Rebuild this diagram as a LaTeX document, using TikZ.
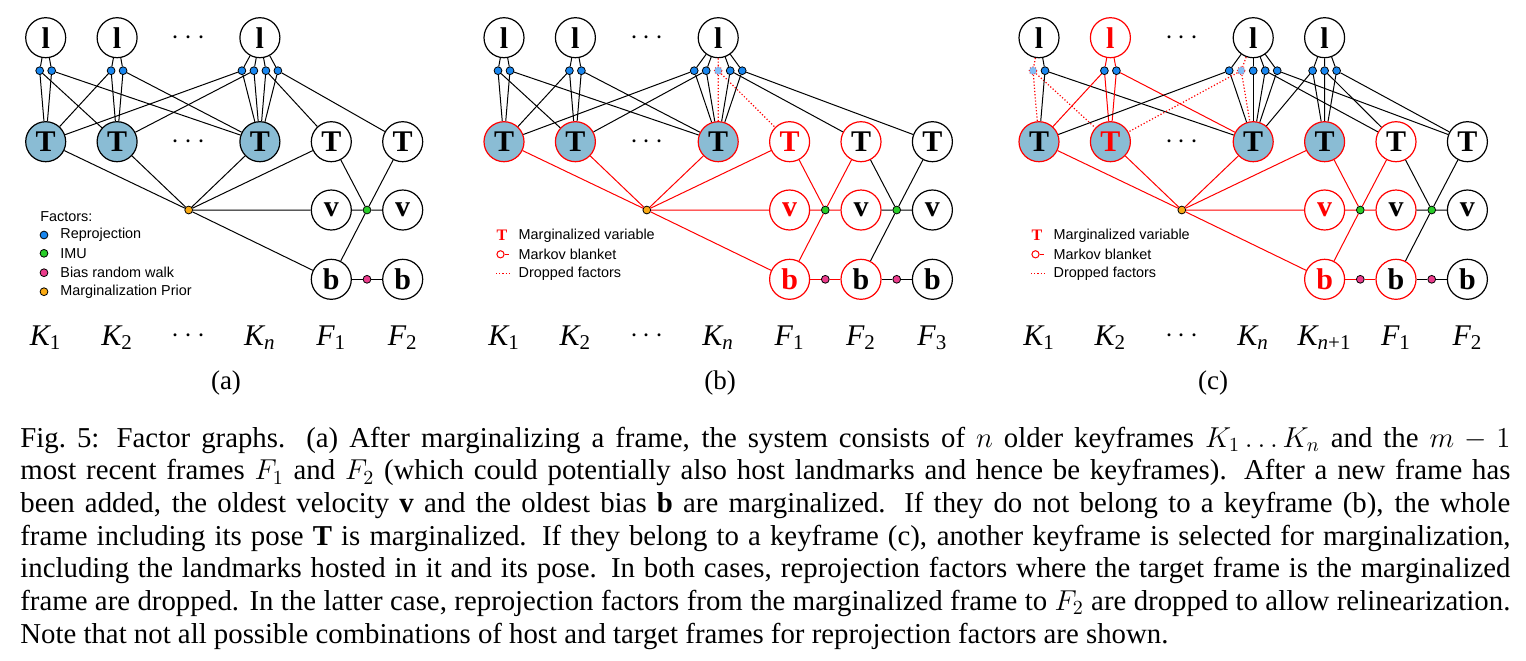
\documentclass[tikz,border=0pt]{standalone}
\usepackage{fontspec}
\setmainfont{Liberation Serif}
\setsansfont{Liberation Sans}
\usetikzlibrary{calc}

\definecolor{kfblue}{RGB}{138,188,212}
\definecolor{rpblue}{RGB}{25,135,240}
\definecolor{imugreen}{RGB}{40,205,40}
\definecolor{rwpink}{RGB}{235,60,140}
\definecolor{priororange}{RGB}{250,170,20}

\tikzset{
  var/.style={circle, draw, line width=0.6pt, minimum size=20pt, inner sep=0pt,
    fill=white, font=\bfseries\fontsize{15}{15}\selectfont},
  kf/.style={var, fill=kfblue},
  blanket/.style={draw=red},
  margvar/.style={draw=red, text=red},
  fac/.style={circle, draw, line width=0.4pt, minimum size=3.9pt, inner sep=0pt},
  rp/.style={fac, fill=rpblue},
  rpdrop/.style={fac, fill=rpblue!55, draw=red, densely dotted},
  imu/.style={fac, fill=imugreen},
  rw/.style={fac, fill=rwpink},
  prior/.style={fac, fill=priororange},
  gap/.style={font=\fontsize{15}{15}\selectfont},
  ln/.style={line width=0.5pt},
  lnred/.style={ln, red},
  lndrop/.style={line width=0.6pt, red, densely dotted},
  lgd/.style={anchor=west, inner sep=0pt, font=\sffamily\fontsize{7.2}{8}\selectfont},
  klab/.style={font=\fontsize{15}{15}\selectfont\itshape},
  sublab/.style={font=\fontsize{13.5}{15}\selectfont},
}

\begin{document}
\begin{tikzpicture}[x=0.5pt, y=-0.5pt]
  \useasboundingbox (0,0) rectangle (1526,660);

  % ---------------- (a) ----------------
  \begin{scope}[shift={(45.7,0)}]
    % landmarks and their reprojection factors
    \node[var] (a-l1) at (0,37.7) {l};
    \node[var] (a-l2) at (71.4,37.7) {l};
    \node[gap] (a-ld) at (142.8,37.7) {$\cdots$};
    \node[var] (a-l3) at (214.2,37.7) {l};
    \node[rp] (a-r1a) at (-6,70.7) {};
    \node[rp] (a-r1b) at (6,70.7) {};
    \node[rp] (a-r2a) at (65.4,70.7) {};
    \node[rp] (a-r2b) at (77.4,70.7) {};
    \node[rp] (a-r3a) at (196.2,70.7) {};
    \node[rp] (a-r3b) at (208.2,70.7) {};
    \node[rp] (a-r3c) at (220.2,70.7) {};
    \node[rp] (a-r3d) at (232.2,70.7) {};
    % poses, velocities, biases
    \node[kf] (a-t1) at (0,141.7) {T};
    \node[kf] (a-t2) at (71.4,141.7) {T};
    \node[gap] (a-td) at (142.8,141.7) {$\cdots$};
    \node[kf] (a-t3) at (214.2,141.7) {T};
    \node[var] (a-t4) at (285.6,141.7) {T};
    \node[var] (a-t5) at (357,141.7) {T};
    \node[var] (a-v4) at (285.6,210) {v};
    \node[var] (a-v5) at (357,210) {v};
    \node[var] (a-b4) at (285.6,279.3) {b};
    \node[var] (a-b5) at (357,279.3) {b};
    \node[prior] (a-p) at (143,210) {};
    \node[imu] (a-i) at (321.3,210) {};
    \node[rw] (a-w) at (321.3,279.3) {};
    % reprojection edges
    \draw[ln] (a-l1) -- (a-r1a) -- (a-t1) (a-r1a) -- (a-t2);
    \draw[ln] (a-l1) -- (a-r1b) -- (a-t1) (a-r1b) -- (a-t3);
    \draw[ln] (a-l2) -- (a-r2a) -- (a-t2) (a-r2a) -- (a-t1);
    \draw[ln] (a-l2) -- (a-r2b) -- (a-t2) (a-r2b) -- (a-t3);
    \draw[ln] (a-l3) -- (a-r3a) -- (a-t3) (a-r3a) -- (a-t1);
    \draw[ln] (a-l3) -- (a-r3b) -- (a-t3) (a-r3b) -- (a-t2);
    \draw[ln] (a-l3) -- (a-r3c) -- (a-t3) (a-r3c) -- (a-t4);
    \draw[ln] (a-l3) -- (a-r3d) -- (a-t3) (a-r3d) -- (a-t5);
    % prior, imu, random walk
    \draw[ln] (a-p) -- (a-t1) (a-p) -- (a-t2) (a-p) -- (a-t3)
      (a-p) -- (a-t4) (a-p) -- (a-v4) (a-p) -- (a-b4);
    \draw[ln] (a-i) -- (a-t4) (a-i) -- (a-t5) (a-i) -- (a-v4)
      (a-i) -- (a-v5) (a-i) -- (a-b4);
    \draw[ln] (a-b4) -- (a-w) -- (a-b5);
    % legend
    \node[lgd] (a-key) at (-5.7,216.7) {Factors:};
    \node[rp] (a-k1) at (-1.7,235) {};
    \node[imu] (a-k2) at (-1.7,253.3) {};
    \node[rw] (a-k3) at (-1.7,272.7) {};
    \node[prior] (a-k4) at (-1.7,291.7) {};
    \node[lgd] (a-k1t) at (14.3,235) {Reprojection};
    \node[lgd] (a-k2t) at (14.3,253.3) {IMU};
    \node[lgd] (a-k3t) at (14.3,272.7) {Bias random walk};
    \node[lgd] (a-k4t) at (14.3,291.7) {Marginalization Prior};
    % frame labels
    \node[klab] (a-f1) at (0,338) {K\textsubscript{\upshape 1}};
    \node[klab] (a-f2) at (71.4,338) {K\textsubscript{\upshape 2}};
    \node[gap] (a-fd) at (142.8,336) {$\cdots$};
    \node[klab] (a-f3) at (214.2,338) {K\textsubscript{n}};
    \node[klab] (a-f4) at (285.6,338) {F\textsubscript{\upshape 1}};
    \node[klab] (a-f5) at (357,338) {F\textsubscript{\upshape 2}};
    \node[sublab] (a-sub) at (180.3,383) {(a)};
  \end{scope}

  % ---------------- (b) ----------------
  \begin{scope}[shift={(504,0)}]
    \node[var] (b-l1) at (0,37.7) {l};
    \node[var] (b-l2) at (71.4,37.7) {l};
    \node[gap] (b-ld) at (142.8,37.7) {$\cdots$};
    \node[var] (b-l3) at (214.2,37.7) {l};
    \node[rp] (b-r1a) at (-6,70.7) {};
    \node[rp] (b-r1b) at (6,70.7) {};
    \node[rp] (b-r2a) at (65.4,70.7) {};
    \node[rp] (b-r2b) at (77.4,70.7) {};
    \node[rp] (b-r3a) at (190.2,70.7) {};
    \node[rp] (b-r3b) at (202.2,70.7) {};
    \node[rpdrop] (b-r3c) at (214.2,70.7) {};
    \node[rp] (b-r3d) at (226.2,70.7) {};
    \node[rp] (b-r3e) at (238.2,70.7) {};
    \node[kf, blanket] (b-t1) at (0,141.7) {T};
    \node[kf, blanket] (b-t2) at (71.4,141.7) {T};
    \node[gap] (b-td) at (142.8,141.7) {$\cdots$};
    \node[kf, blanket] (b-t3) at (214.2,141.7) {T};
    \node[var, margvar] (b-t4) at (285.6,141.7) {T};
    \node[var, blanket] (b-t5) at (357,141.7) {T};
    \node[var] (b-t6) at (428.4,141.7) {T};
    \node[var, margvar] (b-v4) at (285.6,210) {v};
    \node[var, blanket] (b-v5) at (357,210) {v};
    \node[var] (b-v6) at (428.4,210) {v};
    \node[var, margvar] (b-b4) at (285.6,279.3) {b};
    \node[var, blanket] (b-b5) at (357,279.3) {b};
    \node[var] (b-b6) at (428.4,279.3) {b};
    \node[prior] (b-p) at (142.8,210) {};
    \node[imu] (b-i1) at (321.3,210) {};
    \node[imu] (b-i2) at (392.7,210) {};
    \node[rw] (b-w1) at (321.3,279.3) {};
    \node[rw] (b-w2) at (392.7,279.3) {};
    % reprojection edges
    \draw[ln] (b-l1) -- (b-r1a) -- (b-t1) (b-r1a) -- (b-t2);
    \draw[ln] (b-l1) -- (b-r1b) -- (b-t1) (b-r1b) -- (b-t3);
    \draw[ln] (b-l2) -- (b-r2a) -- (b-t2) (b-r2a) -- (b-t1);
    \draw[ln] (b-l2) -- (b-r2b) -- (b-t2) (b-r2b) -- (b-t3);
    \draw[ln] (b-l3) -- (b-r3a) -- (b-t3) (b-r3a) -- (b-t1);
    \draw[ln] (b-l3) -- (b-r3b) -- (b-t3) (b-r3b) -- (b-t2);
    \draw[lndrop] (b-l3) -- (b-r3c) -- (b-t3) (b-r3c) -- (b-t4);
    \draw[ln] (b-l3) -- (b-r3d) -- (b-t3) (b-r3d) -- (b-t5);
    \draw[ln] (b-l3) -- (b-r3e) -- (b-t3) (b-r3e) -- (b-t6);
    % prior, imu, random walk
    \draw[lnred] (b-p) -- (b-t1) (b-p) -- (b-t2) (b-p) -- (b-t3)
      (b-p) -- (b-t4) (b-p) -- (b-v4) (b-p) -- (b-b4);
    \draw[lnred] (b-i1) -- (b-t4) (b-i1) -- (b-t5) (b-i1) -- (b-v4)
      (b-i1) -- (b-v5) (b-i1) -- (b-b4);
    \draw[ln] (b-i2) -- (b-t5) (b-i2) -- (b-t6) (b-i2) -- (b-v5)
      (b-i2) -- (b-v6) (b-i2) -- (b-b5);
    \draw[lnred] (b-b4) -- (b-w1) -- (b-b5);
    \draw[ln] (b-b5) -- (b-w2) -- (b-b6);
    % legend
    \node[inner sep=0pt, text=red, font=\bfseries\fontsize{8}{8}\selectfont] (b-k1) at (-2,235.7) {T};
    \node[circle, draw=red, line width=0.5pt, minimum size=3.6pt, inner sep=0pt] (b-k2) at (-3.5,254.3) {};
    \coordinate (b-k2e) at (5,254.3);
    \draw[lnred] (b-k2) -- (b-k2e);
    \coordinate (b-k3a) at (-8,273.3);
    \coordinate (b-k3b) at (5,273.3);
    \draw[lndrop] (b-k3a) -- (b-k3b);
    \node[lgd] (b-k1t) at (14.3,235.7) {Marginalized variable};
    \node[lgd] (b-k2t) at (14.3,254.3) {Markov blanket};
    \node[lgd] (b-k3t) at (14.3,273.3) {Dropped factors};
    % frame labels
    \node[klab] (b-f1) at (0,338) {K\textsubscript{\upshape 1}};
    \node[klab] (b-f2) at (71.4,338) {K\textsubscript{\upshape 2}};
    \node[gap] (b-fd) at (142.8,336) {$\cdots$};
    \node[klab] (b-f3) at (214.2,338) {K\textsubscript{n}};
    \node[klab] (b-f4) at (285.6,338) {F\textsubscript{\upshape 1}};
    \node[klab] (b-f5) at (357,338) {F\textsubscript{\upshape 2}};
    \node[klab] (b-f6) at (428.4,338) {F\textsubscript{\upshape 3}};
    \node[sublab] (b-sub) at (216,383) {(b)};
  \end{scope}

  % ---------------- (c) ----------------
  \begin{scope}[shift={(1039,0)}]
    \node[var] (c-l1) at (0,37.7) {l};
    \node[var, margvar] (c-l2) at (71.4,37.7) {l};
    \node[gap] (c-ld) at (142.8,37.7) {$\cdots$};
    \node[var] (c-l3) at (214.2,37.7) {l};
    \node[var] (c-l4) at (285.6,37.7) {l};
    \node[rpdrop] (c-r1a) at (-6,70.7) {};
    \node[rp] (c-r1b) at (6,70.7) {};
    \node[rp] (c-r2a) at (65.4,70.7) {};
    \node[rp] (c-r2b) at (77.4,70.7) {};
    \node[rp] (c-r3a) at (190.2,70.7) {};
    \node[rpdrop] (c-r3b) at (202.2,70.7) {};
    \node[rp] (c-r3c) at (214.2,70.7) {};
    \node[rp] (c-r3d) at (226.2,70.7) {};
    \node[rp] (c-r3e) at (238.2,70.7) {};
    \node[rp] (c-r4a) at (273.6,70.7) {};
    \node[rp] (c-r4b) at (285.6,70.7) {};
    \node[rp] (c-r4c) at (297.6,70.7) {};
    \node[kf, blanket] (c-t1) at (0,141.7) {T};
    \node[kf, margvar] (c-t2) at (71.4,141.7) {T};
    \node[gap] (c-td) at (142.8,141.7) {$\cdots$};
    \node[kf, blanket] (c-t3) at (214.2,141.7) {T};
    \node[kf, blanket] (c-t4) at (285.6,141.7) {T};
    \node[var, blanket] (c-t5) at (357,141.7) {T};
    \node[var] (c-t6) at (428.4,141.7) {T};
    \node[var, margvar] (c-v4) at (285.6,210) {v};
    \node[var, blanket] (c-v5) at (357,210) {v};
    \node[var] (c-v6) at (428.4,210) {v};
    \node[var, margvar] (c-b4) at (285.6,279.3) {b};
    \node[var, blanket] (c-b5) at (357,279.3) {b};
    \node[var] (c-b6) at (428.4,279.3) {b};
    \node[prior] (c-p) at (142.8,210) {};
    \node[imu] (c-i1) at (321.3,210) {};
    \node[imu] (c-i2) at (392.7,210) {};
    \node[rw] (c-w1) at (321.3,279.3) {};
    \node[rw] (c-w2) at (392.7,279.3) {};
    % reprojection edges
    \draw[lndrop] (c-l1) -- (c-r1a) -- (c-t1) (c-r1a) -- (c-t2);
    \draw[ln] (c-l1) -- (c-r1b) -- (c-t1) (c-r1b) -- (c-t3);
    \draw[lnred] (c-l2) -- (c-r2a) -- (c-t2) (c-r2a) -- (c-t1);
    \draw[lnred] (c-l2) -- (c-r2b) -- (c-t2) (c-r2b) -- (c-t3);
    \draw[ln] (c-l3) -- (c-r3a) -- (c-t3) (c-r3a) -- (c-t1);
    \draw[lndrop] (c-l3) -- (c-r3b) -- (c-t3) (c-r3b) -- (c-t2);
    \draw[ln] (c-l3) -- (c-r3c) -- (c-t3);
    \draw[ln] (c-l3) -- (c-r3d) -- (c-t3) (c-r3d) -- (c-t5);
    \draw[ln] (c-l3) -- (c-r3e) -- (c-t3) (c-r3e) -- (c-t6);
    \draw[ln] (c-l4) -- (c-r4a) -- (c-t4) (c-r4a) -- (c-t3);
    \draw[ln] (c-l4) -- (c-r4b) -- (c-t4) (c-r4b) -- (c-t5);
    \draw[ln] (c-l4) -- (c-r4c) -- (c-t4) (c-r4c) -- (c-t6);
    % prior, imu, random walk
    \draw[lnred] (c-p) -- (c-t1) (c-p) -- (c-t2) (c-p) -- (c-t3)
      (c-p) -- (c-t4) (c-p) -- (c-v4) (c-p) -- (c-b4);
    \draw[lnred] (c-i1) -- (c-t4) (c-i1) -- (c-t5) (c-i1) -- (c-v4)
      (c-i1) -- (c-v5) (c-i1) -- (c-b4);
    \draw[ln] (c-i2) -- (c-t5) (c-i2) -- (c-t6) (c-i2) -- (c-v5)
      (c-i2) -- (c-v6) (c-i2) -- (c-b5);
    \draw[lnred] (c-b4) -- (c-w1) -- (c-b5);
    \draw[ln] (c-b5) -- (c-w2) -- (c-b6);
    % legend
    \node[inner sep=0pt, text=red, font=\bfseries\fontsize{8}{8}\selectfont] (c-k1) at (-2,235.7) {T};
    \node[circle, draw=red, line width=0.5pt, minimum size=3.6pt, inner sep=0pt] (c-k2) at (-3.5,254.3) {};
    \coordinate (c-k2e) at (5,254.3);
    \draw[lnred] (c-k2) -- (c-k2e);
    \coordinate (c-k3a) at (-8,273.3);
    \coordinate (c-k3b) at (5,273.3);
    \draw[lndrop] (c-k3a) -- (c-k3b);
    \node[lgd] (c-k1t) at (14.3,235.7) {Marginalized variable};
    \node[lgd] (c-k2t) at (14.3,254.3) {Markov blanket};
    \node[lgd] (c-k3t) at (14.3,273.3) {Dropped factors};
    % frame labels
    \node[klab] (c-f1) at (0,338) {K\textsubscript{\upshape 1}};
    \node[klab] (c-f2) at (71.4,338) {K\textsubscript{\upshape 2}};
    \node[gap] (c-fd) at (142.8,336) {$\cdots$};
    \node[klab] (c-f3) at (214.2,338) {K\textsubscript{n}};
    \node[klab] (c-f4) at (285.6,338) {K\textsubscript{n\upshape +1}};
    \node[klab] (c-f5) at (357,338) {F\textsubscript{\upshape 1}};
    \node[klab] (c-f6) at (428.4,338) {F\textsubscript{\upshape 2}};
    \node[sublab] (c-sub) at (174,383) {(c)};
  \end{scope}

  % caption
  \node[anchor=base west, text width=745pt, align=justify, inner sep=0pt,
    font=\fontsize{14.4}{16.35}\selectfont] (cap) at (20,447)
    {Fig.~5: Factor graphs. (a) After marginalizing a frame, the system consists of $n$ older keyframes $K_1\ldots K_n$ and the $m-1$\linebreak
     most recent frames $F_1$ and $F_2$ (which could potentially also host landmarks and hence be keyframes). After a new frame has\linebreak
     been added, the oldest velocity $\mathbf{v}$ and the oldest bias $\mathbf{b}$ are marginalized. If they do not belong to a keyframe (b), the whole\linebreak
     frame including its pose $\mathbf{T}$ is marginalized. If they belong to a keyframe (c), another keyframe is selected for marginalization,\linebreak
     including the landmarks hosted in it and its pose. In both cases, reprojection factors where the target frame is the marginalized\linebreak
     frame are dropped. In the latter case, reprojection factors from the marginalized frame to $F_2$ are dropped to allow relinearization.\linebreak
     Note that not all possible combinations of host and target frames for reprojection factors are shown.};
\end{tikzpicture}
\end{document}
